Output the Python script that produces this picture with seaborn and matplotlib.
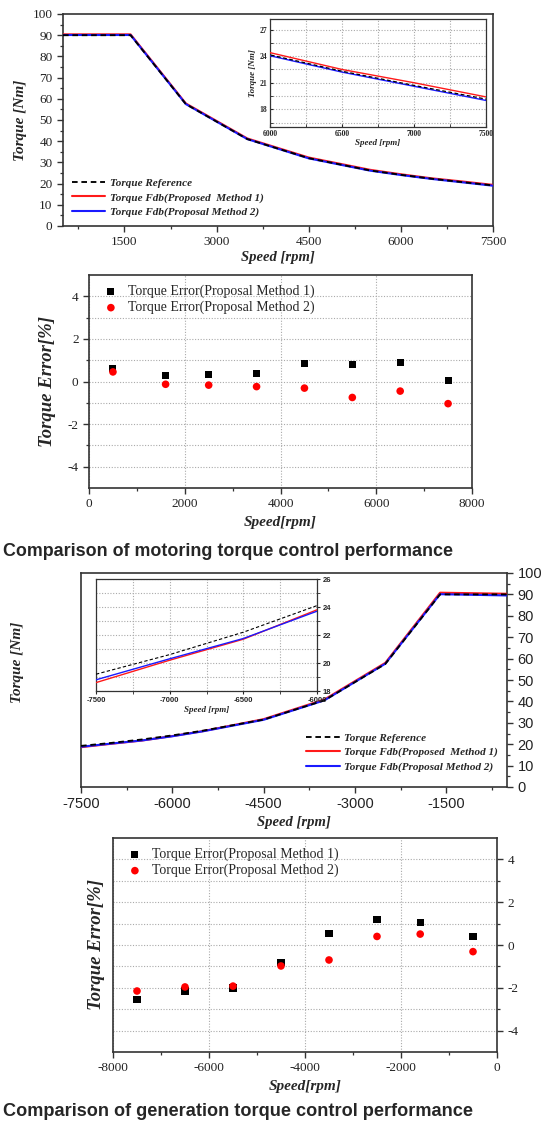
import numpy as np
import pandas as pd
import matplotlib
matplotlib.use("Agg")
import matplotlib.pyplot as plt
import seaborn as sns
from matplotlib.ticker import MultipleLocator, FixedLocator

# ---------------- data ----------------
mot_speed = [500, 1600, 2500, 3500, 4500, 5500, 6000, 6500, 7000, 7500]
mot_ref = [90.0, 90.0, 57.5, 41.0, 32.0, 26.2, 24.15, 22.3, 20.7, 19.15]
mot_fdb1 = [90.4, 90.4, 57.8, 41.3, 32.3, 26.5, 24.4, 22.5, 21.0, 19.4]
mot_fdb2 = [90.1, 90.1, 57.5, 41.0, 31.9, 26.1, 24.05, 22.2, 20.6, 19.0]

gen_speed = [-7500, -7000, -6500, -6000, -5500, -4500, -3500, -2500, -1600, -500]
gen_ref = [19.2, 20.6, 22.2, 24.1, 26.3, 31.5, 40.5, 57.5, 90.0, 90.0]
gen_fdb1 = [18.6, 20.2, 21.7, 23.8, 26.1, 31.7, 40.9, 58.0, 90.8, 90.3]
gen_fdb2 = [18.8, 20.3, 21.75, 23.7, 26.0, 31.4, 40.5, 57.6, 90.1, 89.5]

mot_err_speed = [500, 1600, 2500, 3500, 4500, 5500, 6500, 7500]
mot_err1 = [0.61, 0.27, 0.35, 0.38, 0.86, 0.78, 0.89, 0.06]
mot_err2 = [0.45, -0.13, -0.17, -0.24, -0.31, -0.75, -0.45, -1.04]

gen_err_speed = [-7500, -6500, -5500, -4500, -3500, -2500, -1600, -500]
gen_err1 = [-2.55, -2.15, -2.01, -0.81, 0.55, 1.20, 1.07, 0.40]
gen_err2 = [-2.15, -1.96, -1.92, -0.98, -0.70, 0.40, 0.51, -0.31]

lbl_ref = "Torque Reference"
lbl_f1 = "Torque Fdb(Proposed  Method 1)"
lbl_f2 = "Torque Fdb(Proposal Method 2)"
lbl_e1 = "Torque Error(Proposal Method 1)"
lbl_e2 = "Torque Error(Proposal Method 2)"
cap1 = "Comparison of motoring torque control performance"
cap2 = "Comparison of generation torque control performance"

# ---------------- style ----------------
sns.set_style("white")
plt.rcParams["font.family"] = ["Liberation Serif", "DejaVu Serif"]
plt.rcParams["axes.edgecolor"] = "#333333"
plt.rcParams["axes.linewidth"] = 1.2
plt.rcParams["axes.unicode_minus"] = False

W, H = 551, 1123
fig = plt.figure(figsize=(W / 100, H / 100), dpi=100)


def rect(x0, y0, x1, y1):
    return [x0 / W, 1 - y1 / H, (x1 - x0) / W, (y1 - y0) / H]


SERIF = ["Liberation Serif", "DejaVu Serif"]
SANS = ["Liberation Sans", "DejaVu Sans"]
LAB = dict(family=SERIF, weight="bold", style="italic")
RED = "#ff1a1a"
BLUE = "#1a1aff"
GRIDKW = dict(color="#aaaaaa", linestyle=(0, (1, 1.5)), linewidth=0.8)


def torque_lines(ax, x, ref, f1, f2, lw=1.5):
    sns.lineplot(x=x, y=f1, ax=ax, color=RED, lw=lw, label=lbl_f1, zorder=3)
    sns.lineplot(x=x, y=f2, ax=ax, color=BLUE, lw=lw, label=lbl_f2, zorder=4)
    sns.lineplot(x=x, y=ref, ax=ax, color="black", lw=lw * 0.9, linestyle=(0, (3, 2)),
                 label=lbl_ref, zorder=5)


def ticks_out(ax, size=9, fam=SERIF, weight="normal", right=False):
    ax.tick_params(which="both", bottom=True, left=not right, right=right,
                   labelleft=not right, labelright=right)
    ax.tick_params(which="major", direction="out", length=4, width=1, colors="#333333",
                   labelsize=size, labelcolor="#222222")
    ax.tick_params(which="minor", direction="out", length=2.5, width=0.9, colors="#333333")
    for t in ax.get_xticklabels() + ax.get_yticklabels():
        t.set_family(fam)
        t.set_weight(weight)


# ================= Panel 1 =================
ax1 = fig.add_axes(rect(63, 14, 493, 226))
torque_lines(ax1, mot_speed, mot_ref, mot_fdb1, mot_fdb2)
ax1.set_xlim(500, 7500)
ax1.set_ylim(0, 100)
ax1.xaxis.set_major_locator(FixedLocator([1500, 3000, 4500, 6000, 7500]))
ax1.xaxis.set_minor_locator(FixedLocator([750, 2250, 3750, 5250, 6750]))
ax1.yaxis.set_major_locator(MultipleLocator(10))
ax1.yaxis.set_minor_locator(MultipleLocator(5))
ticks_out(ax1, 9.5)
ax1.set_xlabel("Speed [rpm]", fontsize=10.5, labelpad=2, **LAB)
ax1.set_ylabel("Torque [Nm]", fontsize=11, labelpad=4, **LAB)
h, l = ax1.get_legend_handles_labels()
order = [2, 0, 1]
ax1.legend([h[i] for i in order], [l[i] for i in order], loc="lower left",
           bbox_to_anchor=(0.0, 0.0), frameon=False, handlelength=3.0, handletextpad=0.4,
           prop=dict(family=SERIF, weight="bold", style="italic", size=8),
           labelspacing=0.4, borderaxespad=0.4)

# inset 1
ia1 = fig.add_axes(rect(270, 19, 486, 127))
torque_lines(ia1, mot_speed, mot_ref, mot_fdb1, mot_fdb2, lw=1.0)
ia1.set_xlim(6000, 7500)
ia1.set_ylim(16, 28.2)
ia1.xaxis.set_major_locator(MultipleLocator(500))
ia1.xaxis.set_minor_locator(MultipleLocator(250))
ia1.yaxis.set_major_locator(FixedLocator([18, 21, 24, 27]))
ia1.yaxis.set_minor_locator(MultipleLocator(1.5))
ia1.grid(True, which="both", **GRIDKW)
ia1.tick_params(which="both", bottom=True, left=True, direction="in", length=2,
                labelsize=5.5, pad=2)
for t in ia1.get_xticklabels() + ia1.get_yticklabels():
    t.set_family(SERIF); t.set_weight("bold")
ia1.set_xlabel("Speed [rpm]", fontsize=6.5, labelpad=1, **LAB)
ia1.set_ylabel("Torque [Nm]", fontsize=6.5, labelpad=2, **LAB)
ia1.get_legend().remove()
for s in ia1.spines.values():
    s.set_linewidth(0.9)

# ================= Panel 2 =================
ax2 = fig.add_axes(rect(89, 275, 472, 488))
sns.scatterplot(x=mot_err_speed, y=mot_err1, ax=ax2, marker="s", color="black", s=26,
                edgecolor="none", label=lbl_e1, zorder=4)
sns.scatterplot(x=mot_err_speed, y=mot_err2, ax=ax2, marker="o", color="#ff0000", s=30,
                edgecolor="none", label=lbl_e2, zorder=4)
ax2.set_xlim(0, 8000)
ax2.set_ylim(-5, 5)
ax2.xaxis.set_major_locator(MultipleLocator(2000))
ax2.xaxis.set_minor_locator(MultipleLocator(1000))
ax2.yaxis.set_major_locator(FixedLocator([-4, -2, 0, 2, 4]))
ax2.yaxis.set_minor_locator(FixedLocator([-3, -1, 1, 3]))
ax2.grid(True, which="major", axis="x", **GRIDKW)
ax2.grid(True, which="both", axis="y", **GRIDKW)
ticks_out(ax2, 9.5)
ax2.set_xlabel("Speed[rpm]", fontsize=11, labelpad=4, **LAB)
ax2.set_ylabel("Torque Error[%]", fontsize=13.5, labelpad=8, **LAB)
ax2.legend(loc="upper left", frameon=False, handletextpad=0.6, handlelength=1.2,
           prop=dict(family=SERIF, size=10), labelspacing=0.2,
           bbox_to_anchor=(0.01, 1.0), borderaxespad=0.3)

fig.text(3 / W, 1 - 552 / H, cap1, family=SANS, weight="bold", fontsize=12.9,
         ha="left", va="center")

# ================= Panel 3 =================
ax3 = fig.add_axes(rect(81, 573, 507, 787))
torque_lines(ax3, gen_speed, gen_ref, gen_fdb1, gen_fdb2)
ax3.set_xlim(-7500, -500)
ax3.set_ylim(0, 100)
ax3.xaxis.set_major_locator(FixedLocator([-7500, -6000, -4500, -3000, -1500]))
ax3.xaxis.set_minor_locator(FixedLocator([-6750, -5250, -3750, -2250, -750]))
ax3.yaxis.set_major_locator(MultipleLocator(10))
ax3.yaxis.set_minor_locator(MultipleLocator(5))
ax3.yaxis.tick_right()
ticks_out(ax3, 10.5, fam=SANS, right=True)
ax3.set_xlabel("Speed [rpm]", fontsize=10.5, labelpad=3, **LAB)
ax3.set_ylabel("")
fig.text(18 / W, 1 - 662 / H, "Torque [Nm]", rotation=90, fontsize=11, ha="center",
         va="center", **LAB)
h, l = ax3.get_legend_handles_labels()
ax3.legend([h[i] for i in order], [l[i] for i in order], loc="lower right",
           bbox_to_anchor=(1.0, 0.03), frameon=False, handlelength=3.0, handletextpad=0.4,
           prop=dict(family=SERIF, weight="bold", style="italic", size=8),
           labelspacing=0.4, borderaxespad=0.4)

# inset 3
ia3 = fig.add_axes(rect(96, 579, 317, 691))
torque_lines(ia3, gen_speed, gen_ref, gen_fdb1, gen_fdb2, lw=1.0)
ia3.lines[-1].set_linewidth(0.8)
ia3.set_xlim(-7500, -6000)
ia3.set_ylim(18, 26)
ia3.xaxis.set_major_locator(MultipleLocator(500))
ia3.xaxis.set_minor_locator(MultipleLocator(250))
ia3.yaxis.set_major_locator(MultipleLocator(2))
ia3.yaxis.set_minor_locator(MultipleLocator(1))
ia3.yaxis.tick_right()
ia3.grid(True, which="both", **GRIDKW)
ia3.tick_params(which="both", bottom=True, right=True, direction="out", length=2,
                labelsize=5.5, pad=2)
for t in ia3.get_xticklabels() + ia3.get_yticklabels():
    t.set_family(SANS); t.set_weight("bold")
ia3.set_xlabel("Speed [rpm]", fontsize=6.5, labelpad=2, **LAB)
ia3.set_ylabel("")
ia3.get_legend().remove()
for s in ia3.spines.values():
    s.set_linewidth(0.9)

# ================= Panel 4 =================
ax4 = fig.add_axes(rect(113, 838, 497, 1052))
sns.scatterplot(x=gen_err_speed, y=gen_err1, ax=ax4, marker="s", color="black", s=26,
                edgecolor="none", label=lbl_e1, zorder=4)
sns.scatterplot(x=gen_err_speed, y=gen_err2, ax=ax4, marker="o", color="#ff0000", s=30,
                edgecolor="none", label=lbl_e2, zorder=4)
ax4.set_xlim(-8000, 0)
ax4.set_ylim(-5, 5)
ax4.xaxis.set_major_locator(MultipleLocator(2000))
ax4.xaxis.set_minor_locator(MultipleLocator(1000))
ax4.yaxis.set_major_locator(FixedLocator([-4, -2, 0, 2, 4]))
ax4.yaxis.set_minor_locator(FixedLocator([-3, -1, 1, 3]))
ax4.yaxis.tick_right()
ax4.grid(True, which="major", axis="x", **GRIDKW)
ax4.grid(True, which="both", axis="y", **GRIDKW)
ticks_out(ax4, 9.5, right=True)
ax4.set_xlabel("Speed[rpm]", fontsize=11, labelpad=4, **LAB)
ax4.yaxis.set_label_position("left")
ax4.set_ylabel("Torque Error[%]", fontsize=13.5, labelpad=6, **LAB)
ax4.legend(loc="upper left", frameon=False, handletextpad=0.6, handlelength=1.2,
           prop=dict(family=SERIF, size=10), labelspacing=0.2,
           bbox_to_anchor=(0.01, 1.0), borderaxespad=0.3)

fig.text(3 / W, 1 - 1111 / H, cap2, family=SANS, weight="bold", fontsize=13.1,
         ha="left", va="center")

fig.savefig("out.png", dpi=100)
